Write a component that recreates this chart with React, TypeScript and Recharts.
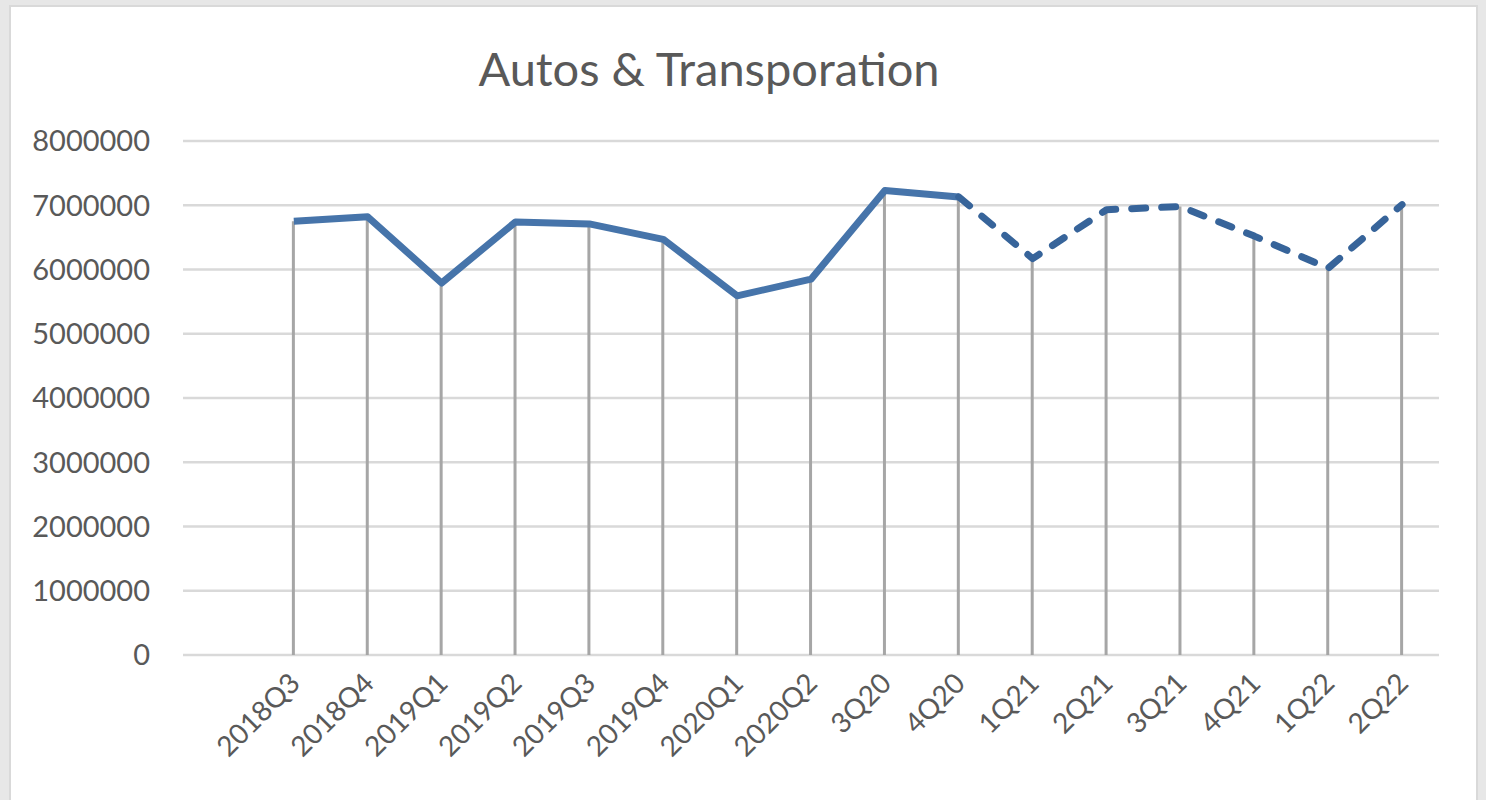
import React from "react";
import { ComposedChart, Bar, Line, XAxis, YAxis, CartesianGrid } from "recharts";

// first slot is left blank on purpose (Excel chart has an empty leading row)
const quarters = [
  "", "2018Q3", "2018Q4", "2019Q1", "2019Q2", "2019Q3", "2019Q4", "2020Q1", "2020Q2",
  "3Q20", "4Q20", "1Q21", "2Q21", "3Q21", "4Q21", "1Q22", "2Q22",
];
const actual = [
  null, 6750000, 6820000, 5790000, 6740000, 6710000, 6470000, 5590000, 5850000,
  7230000, 7130000, null, null, null, null, null, null,
];
const projected = [
  null, null, null, null, null, null, null, null, null,
  null, 7130000, 6170000, 6930000, 6980000, 6520000, 6020000, 7010000,
];
const combined = [
  null, 6750000, 6820000, 5790000, 6740000, 6710000, 6470000, 5590000, 5850000,
  7230000, 7130000, 6170000, 6930000, 6980000, 6520000, 6020000, 7010000,
];
const yTicks = [0, 1000000, 2000000, 3000000, 4000000, 5000000, 6000000, 7000000, 8000000];

const data = quarters.map((q, i) => ({
  quarter: q,
  actual: actual[i],
  projected: projected[i],
  value: combined[i],
}));

const font = "Lato, 'Open Sans', sans-serif";
const textColor = "#595959";

export default function App() {
  return (
    <div style={{ position: "absolute", left: 0, top: 0, width: 1486, height: 800, background: "#e7e7e7", overflow: "hidden" }}>
      <div
        style={{
          position: "absolute",
          left: 9,
          top: 5,
          width: 1469,
          height: 800,
          background: "#fff",
          border: "2px solid #d9d9d9",
          boxSizing: "border-box",
        }}
      >
        <div
          style={{
            position: "absolute",
            left: 0,
            width: 1396,
            top: 33,
            textAlign: "center",
            fontFamily: font,
            fontSize: 47,
            color: textColor,
          }}
        >
          Autos &amp; Transporation
        </div>
        <div style={{ position: "absolute", left: -2, top: -2 }}>
          <ComposedChart width={1469} height={800} data={data} margin={{ top: 136, right: 39, left: 0, bottom: 50 }}>
            <CartesianGrid vertical={false} stroke="#d9d9d9" strokeWidth={2.5} />
            <XAxis
              dataKey="quarter"
              axisLine={false}
              tickLine={false}
              interval={0}
              height={100}
              tick={(props: any) => (
                <text
                  x={props.x + 8}
                  y={props.y + 22}
                  transform={`rotate(-45, ${props.x + 8}, ${props.y + 22})`}
                  textAnchor="end"
                  fill={textColor}
                  fontSize={28}
                  fontFamily={font}
                >
                  {props.payload.value}
                </text>
              )}
            />
            <YAxis
              width={174}
              domain={[0, 8000000]}
              ticks={yTicks}
              axisLine={false}
              tickLine={false}
              tickSize={0}
              tickMargin={33}
              tick={{ fill: textColor, fontSize: 29, fontFamily: font }}
            />
            <Bar dataKey="value" barSize={3} fill="#a6a6a6" isAnimationActive={false} />
            <Line
              dataKey="actual"
              stroke="#4674aa"
              strokeWidth={7}
              strokeLinejoin="round"
              dot={false}
              activeDot={false}
              connectNulls={false}
              type="linear"
              isAnimationActive={false}
            />
            <Line
              dataKey="projected"
              stroke="#37649a"
              strokeWidth={7}
              strokeDasharray="14 16"
              strokeLinecap="round"
              strokeLinejoin="round"
              dot={false}
              activeDot={false}
              connectNulls={false}
              type="linear"
              isAnimationActive={false}
            />
          </ComposedChart>
        </div>
      </div>
    </div>
  );
}
